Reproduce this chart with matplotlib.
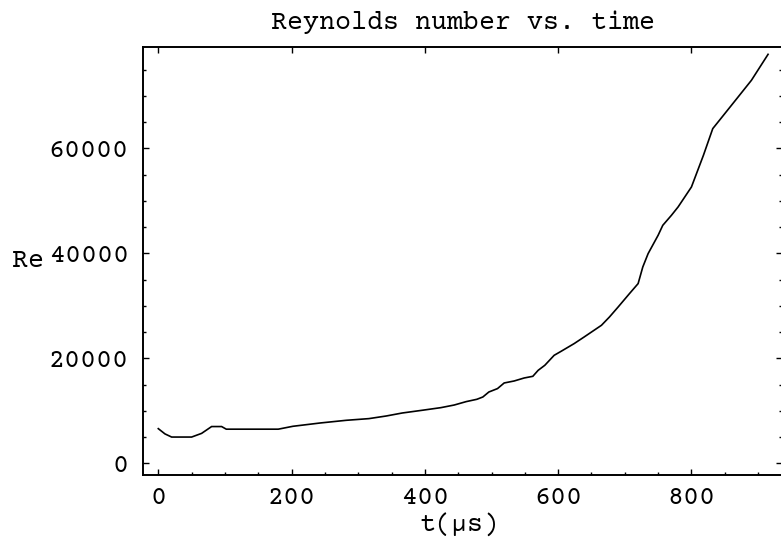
import matplotlib
matplotlib.use("Agg")
import matplotlib.pyplot as plt
from matplotlib.ticker import MultipleLocator

# Reynolds number history (time in microseconds)
t_us = [0, 10, 20, 50, 65, 80, 95, 102, 180, 202, 243, 282, 316, 342, 366,
        396, 424, 444, 462, 478, 487, 496, 509, 519, 534, 549, 562, 570, 580,
        594, 604, 624, 639, 665, 677, 690, 707, 720, 727, 735, 750, 757, 770,
        780, 800, 818, 832, 842, 870, 890, 915]
reynolds = [6600, 5600, 5000, 5000, 5700, 7000, 7000, 6500, 6500, 7050, 7680,
            8190, 8510, 9010, 9580, 10100, 10600, 11100, 11750, 12190, 12630,
            13580, 14230, 15300, 15680, 16250, 16570, 17710, 18670, 20570,
            21300, 22800, 24060, 26290, 27870, 29770, 32320, 34230, 37390,
            39940, 43430, 45330, 47240, 48830, 52630, 58670, 63750, 65330,
            69770, 72950, 77900]

title = "Reynolds number vs. time"
xlabel = "t(μs)"
ylabel = "Re"

plt.rcParams["font.family"] = ["Courier Prime", "FreeMono", "DejaVu Sans Mono"]
FS = 19.2

W, H = 781, 537
fig = plt.figure(figsize=(W / 100, H / 100), dpi=100)
x0, x1, y0, y1 = 143.3, 782.0, 46.5, 474.5
ax = fig.add_axes([x0 / W, 1 - y1 / H, (x1 - x0) / W, (y1 - y0) / H])

ax.plot(t_us, reynolds, color="black", lw=1.2, solid_joinstyle="miter")

ax.set_xlim(-22.5, 935.9)
ax.set_ylim(-2133, 79390)

ax.xaxis.set_major_locator(MultipleLocator(200))
ax.xaxis.set_minor_locator(MultipleLocator(50))
ax.yaxis.set_major_locator(MultipleLocator(20000))
ax.yaxis.set_minor_locator(MultipleLocator(5000))

for s in ax.spines.values():
    s.set_linewidth(1.4)

ax.tick_params(which="both", direction="in", top=True, right=True,
               width=1.0, color="black", labelsize=FS)
ax.tick_params(which="major", length=4.0)
ax.tick_params(which="minor", length=2.4, top=False)
ax.tick_params(axis="x", pad=8.5)
ax.tick_params(axis="y", pad=10.5)

ax.set_title(title, fontsize=FS, pad=12.5)
ax.set_xlabel(xlabel, fontsize=FS)
ax.xaxis.set_label_coords(0.4943, -0.089)
ax.set_ylabel(ylabel, fontsize=FS, rotation=0, ha="center", va="center")
ax.yaxis.set_label_coords(-0.1813, 0.5)

fig.savefig("out.png", dpi=100)
